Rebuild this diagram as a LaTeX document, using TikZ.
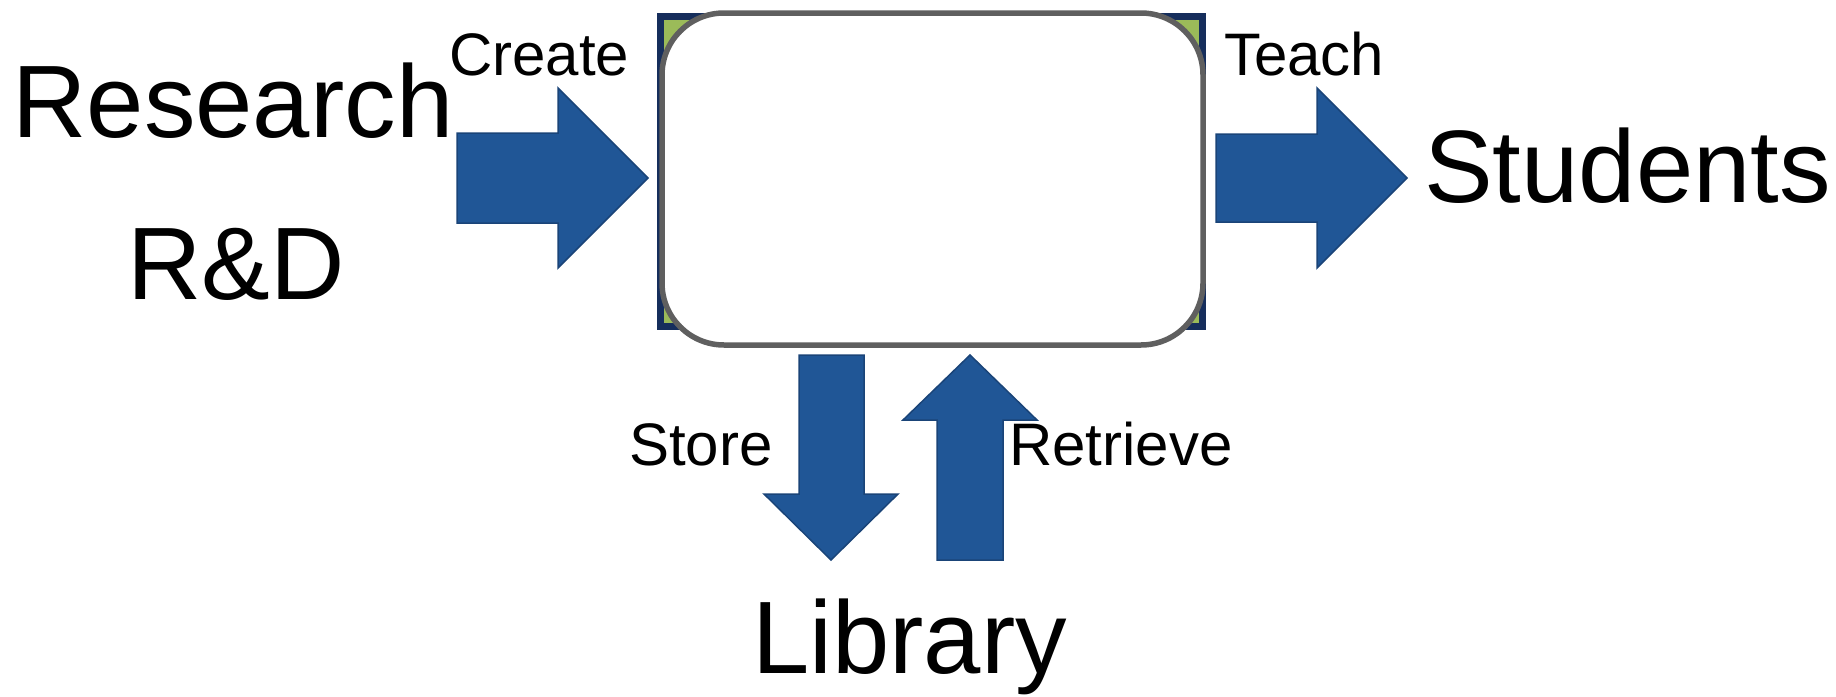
\documentclass[tikz,border=0pt]{standalone}
\usepackage{fontspec}
\setmainfont{Liberation Sans}
\definecolor{arrowblue}{RGB}{32,86,150}
\definecolor{arrowedge}{RGB}{26,68,120}
\definecolor{navy}{RGB}{22,46,92}
\definecolor{leaf}{RGB}{155,187,89}
\definecolor{boxgray}{RGB}{95,95,95}
\tikzset{
  big/.style={inner sep=0pt, font=\fontsize{103}{103}\selectfont},
  small/.style={inner sep=0pt, font=\fontsize{60}{60}\selectfont},
  blockarrow/.style={fill=arrowblue, draw=arrowedge, line width=1.5pt, line join=miter},
}
\begin{document}
\begin{tikzpicture}[x=1pt,y=-1pt]
\useasboundingbox (0,0) rectangle (1836,696);
% central box
\draw[fill=leaf, draw=navy, line width=7pt] (660.5,16.5) rectangle (1202.5,326.5);
\node[draw=boxgray, fill=white, line width=5.5pt, rounded corners=62pt,
      minimum width=541pt, minimum height=332pt, inner sep=0pt] (box) at (932.5,179) {};
% texts
\node[big, anchor=base] (research) at (233,137) {Research};
\node[big, anchor=base] (rd) at (236,299) {R\&D};
\node[big, anchor=base west] (students) at (1424,202) {Students};
\node[big, anchor=base west] (library) at (752,673) {Library};
\node[small, anchor=base west] (create) at (449,75) {Create};
\node[small, anchor=base west] (teach) at (1224,75) {Teach};
\node[small, anchor=base west] (store) at (629,465) {Store};
\node[small, anchor=base west] (retrieve) at (1009,465) {Retrieve};
% block arrows
\draw[blockarrow] (457,133) -- (558,133) -- (558,88) -- (648,178) -- (558,268) -- (558,223) -- (457,223) -- cycle;
\draw[blockarrow] (1216,134) -- (1317,134) -- (1317,88) -- (1407,178) -- (1317,268) -- (1317,222) -- (1216,222) -- cycle;
\draw[blockarrow] (799,355) -- (864,355) -- (864,494) -- (898,494) -- (831,560) -- (764,494) -- (799,494) -- cycle;
\draw[blockarrow] (937,560) -- (1003,560) -- (1003,420) -- (1037,420) -- (970,355) -- (903,420) -- (937,420) -- cycle;
\end{tikzpicture}
\end{document}
